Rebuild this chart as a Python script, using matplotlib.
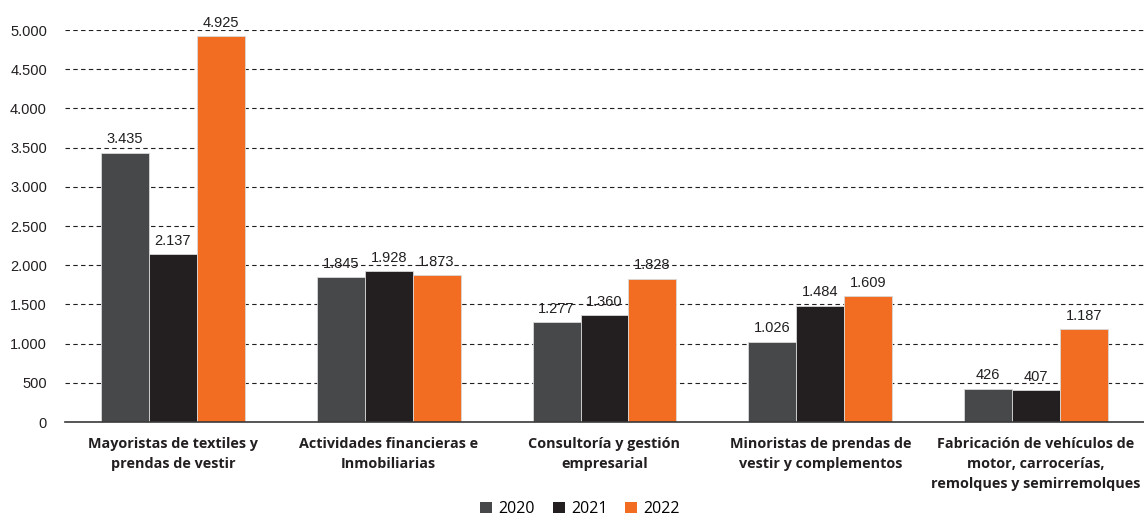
import matplotlib
matplotlib.use("Agg")
import matplotlib.pyplot as plt
import numpy as np
from matplotlib.patches import Patch

categories = ["Mayoristas de textiles y\nprendas de vestir",
              "Actividades financieras e\nInmobiliarias",
              "Consultoría y gestión\nempresarial",
              "Minoristas de prendas de\nvestir y complementos",
              "Fabricación de vehículos de\nmotor, carrocerías,\nremolques y semirremolques"]
years = ["2020", "2021", "2022"]
v2020 = [3435, 1845, 1277, 1026, 426]
v2021 = [2137, 1928, 1360, 1484, 407]
v2022 = [4925, 1873, 1828, 1609, 1187]
yticks = list(range(0, 5001, 500))
colors = ["#47484a", "#231f20", "#f26d21"]

plt.rcParams['font.family'] = ['Open Sans', 'DejaVu Sans']
numfont = ['Liberation Sans', 'DejaVu Sans']

fig = plt.figure(figsize=(11.44, 5.18), dpi=100)
ax = fig.add_axes([65/1144, 1-422/518, 1-65/1144, (422-30)/518])

def fmt(v):
    return f"{v:,}".replace(",", ".")

x = np.arange(len(categories))
w = 0.222
for i, (vals, c) in enumerate(zip([v2020, v2021, v2022], colors)):
    pos = x + (i-1)*w
    ax.bar(pos, vals, width=w, color=c, edgecolor="#d9d9d9", linewidth=0.6, zorder=3)
    for p, v in zip(pos, vals):
        ax.text(p, v + 80, fmt(v), ha="center", va="bottom", fontsize=10.5,
                family=numfont, color="#231f20", clip_on=False, zorder=4)

ax.set_xlim(-0.5, 4.5)
ax.set_ylim(0, 5000)
ax.set_yticks(yticks)
ax.set_yticklabels([fmt(t) for t in yticks], fontsize=10.5, family=numfont, color="#231f20")
ax.set_xticks(x)
ax.set_xticklabels(categories, fontsize=10.4, fontweight="bold", color="#231f20",
                   linespacing=1.55)
ax.tick_params(axis="both", length=0)
ax.tick_params(axis="y", pad=13)
ax.tick_params(axis="x", pad=11)
for s in ["top", "right", "left"]:
    ax.spines[s].set_visible(False)
ax.spines["bottom"].set_color("#3a3a3a")
ax.spines["bottom"].set_linewidth(1.2)
ax.spines["bottom"].set_zorder(5)
ax.yaxis.grid(True, linestyle=(0, (4, 3)), color="#231f20", linewidth=0.8, zorder=0)
ax.set_axisbelow(True)

handles = [Patch(facecolor=c, edgecolor="none") for c in colors]
fig.legend(handles, years, loc="center", bbox_to_anchor=(580/1144, 1-509/518),
           ncol=3, frameon=False, fontsize=11.5, handlelength=0.75, handleheight=0.75,
           handletextpad=0.4, columnspacing=1.1)

fig.savefig("out.png", dpi=100)
